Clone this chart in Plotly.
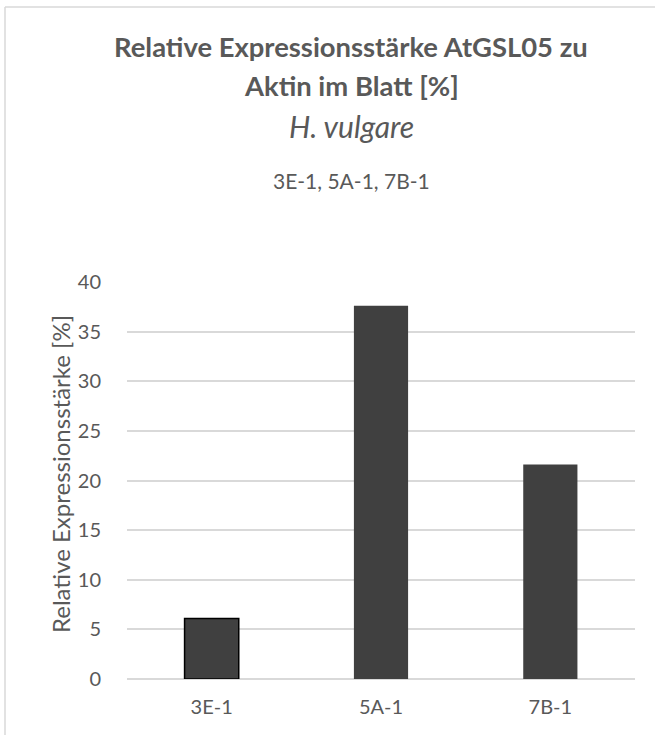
import plotly.graph_objects as go

categories = ["3E-1", "5A-1", "7B-1"]
values = [6.1, 37.6, 21.6]
outline_widths = [1.5, 0, 0]
y_ticks = [0, 5, 10, 15, 20, 25, 30, 35, 40]

title_line1 = "<b>Relative Expressionsstärke AtGSL05 zu</b>"
title_line2 = "<b>Aktin im Blatt [%]</b>"
title_line3 = "<i>H. vulgare</i>"
subtitle = "3E-1, 5A-1, 7B-1"
y_title = "Relative Expressionsstärke [%]"

FONT = "Lato"
TXT = "#595959"
GRID = "#d9d9d9"

fig = go.Figure()
fig.add_trace(go.Bar(
    x=categories, y=values,
    marker=dict(color="#404040", line=dict(color="#000000", width=outline_widths)),
    showlegend=False,
))

L, R, T, B = 127, 20, 282, 56
W, H = 655, 735
pw = W - L - R
ph = H - T - B

def px(xp):
    return (xp - L) / pw

def py(yp):
    return (H - B - yp) / ph

anns = [
    (title_line1, 47, 27.4),
    (title_line2, 85, 27.4),
    (title_line3, 126, 30),
    (subtitle, 180, 21),
]
for text, ypix, size in anns:
    fig.add_annotation(
        text=text, xref="paper", yref="paper", x=px(351), y=py(ypix),
        xanchor="center", yanchor="middle", showarrow=False,
        font=dict(family=FONT, size=size, color=TXT),
    )

fig.add_annotation(
    text=y_title, xref="paper", yref="paper", x=px(60), y=py(474),
    xanchor="center", yanchor="middle", showarrow=False, textangle=-90,
    font=dict(family=FONT, size=24, color=TXT),
)

for x0, y0, x1, y1 in [(5, 7, 655, 7), (5, 7, 5, 735)]:
    fig.add_shape(
        type="line", xref="paper", yref="paper",
        x0=px(x0), y0=py(y0), x1=px(x1), y1=py(y1),
        line=dict(color=GRID, width=1.5), layer="below",
    )

fig.update_layout(
    width=W, height=H,
    margin=dict(l=L, r=R, t=T, b=B, pad=0),
    paper_bgcolor="white", plot_bgcolor="white",
    bargap=0.68,
    font=dict(family=FONT, color=TXT),
    xaxis=dict(
        showgrid=False, showline=False, zeroline=False,
        ticks="outside", ticklen=10, tickcolor="rgba(0,0,0,0)",
        tickfont=dict(size=20, color=TXT),
    ),
    yaxis=dict(
        range=[0, 40], tickvals=y_ticks,
        showgrid=True, gridcolor=GRID, gridwidth=1.5,
        zeroline=True, zerolinecolor=GRID, zerolinewidth=1.5,
        showline=False,
        ticks="outside", ticklen=21, tickcolor="rgba(0,0,0,0)",
        tickfont=dict(size=20, color=TXT),
    ),
)

fig.write_html(
    "out.html",
    config={"displayModeBar": False},
    post_script="document.body.style.margin='0';document.body.style.overflow='hidden';",
)
